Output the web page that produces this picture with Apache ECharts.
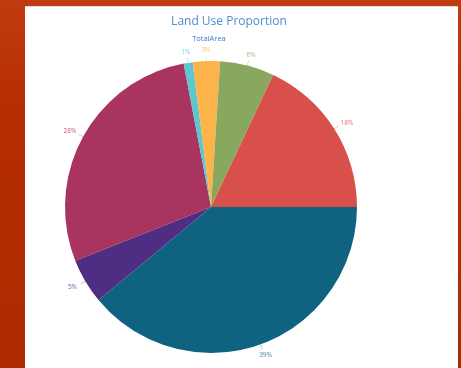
<!DOCTYPE html>
<html><head><meta charset="utf-8">
<script src="https://cdn.jsdelivr.net/npm/echarts@6/dist/echarts.min.js"></script>
<style>
html,body{margin:0;padding:0;width:461px;height:368px;overflow:hidden;background:linear-gradient(180deg,#c03c10 0%,#b52e02 30%,#ad2a00 100%);}
#panel{position:absolute;left:25px;top:6px;width:433px;height:362px;background:#fff;border-top:1px solid #d8d8d8;box-sizing:border-box;}
#chart{position:absolute;left:0;top:0;width:461px;height:368px;}
</style></head>
<body>
<div id="panel"></div>
<div id="chart"></div>
<script>
const categories = ['A', 'B', 'C', 'D', 'E', 'F', 'G'];
const values = [39, 5, 28, 1, 3, 6, 18];
const colors = ['#0f6381', '#4e2d82', '#a8345f', '#5ec6cf', '#fbb34a', '#88a860', '#d94f4b'];
const titleText = 'Land Use Proportion';
const subText = 'TotalArea';

const CX = 211, CY = 207, R = 146;
const chart = echarts.init(document.getElementById('chart'), null, {renderer: 'canvas'});
chart.setOption({
  backgroundColor: 'transparent',
  animation: false,
  title: [
    {text: titleText, left: 224, top: 11, textAlign: 'center',
     textStyle: {color: '#4a8fcf', fontSize: 12, fontWeight: 'normal', fontFamily: 'Open Sans'}},
    {text: subText, left: 204, top: 30, textAlign: 'center',
     textStyle: {color: '#3c7cc4', fontSize: 7.5, fontWeight: 'normal', fontFamily: 'Open Sans'}}
  ],
  series: [{
    type: 'pie',
    center: [CX, CY],
    radius: R,
    startAngle: 0,
    clockwise: true,
    avoidLabelOverlap: false,
    data: categories.map((c, i) => ({name: c, value: values[i],
      itemStyle: {color: colors[i]}, label: {color: colors[i]}})),
    label: {show: true, formatter: p => p.value + '%', fontSize: 6.5, fontFamily: 'Open Sans', opacity: 0.8},
    labelLine: {show: true, length: 5, length2: 2, lineStyle: {width: 0.6, opacity: 0.6}},
    labelLayout: function (params) {
      const pts = params.labelLinePoints;
      if (!pts) return {};
      const a = Math.atan2(pts[0][1] - CY, pts[0][0] - CX);
      const c = Math.cos(a), s = Math.sin(a);
      return {
        x: CX + (R + 15) * c,
        y: CY + (R + 11) * s,
        align: 'center',
        verticalAlign: 'middle',
        labelLinePoints: [pts[0], [CX + (R + 5) * c, CY + (R + 5) * s], [CX + (R + 5) * c, CY + (R + 5) * s]]
      };
    },
    emphasis: {disabled: true}
  }]
});
</script>
</body></html>
